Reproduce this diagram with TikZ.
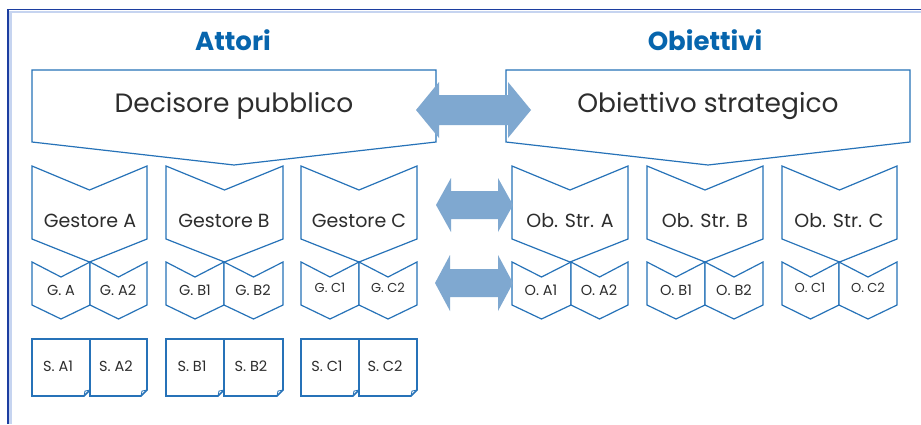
\documentclass[tikz,border=0pt]{standalone}
\usepackage{fontspec}
\setmainfont{Poppins}
\begin{document}
\definecolor{framedark}{RGB}{28,62,160}
\definecolor{framelight}{RGB}{198,212,240}
\definecolor{shapeline}{RGB}{38,114,184}
\definecolor{titleblue}{RGB}{7,101,173}
\definecolor{arrowfill}{RGB}{127,168,208}
\definecolor{textgray}{RGB}{45,45,45}
\tikzset{
  chev/.style={draw=shapeline, line width=1.2pt, fill=white, line join=miter},
  notebox/.style={draw=shapeline, line width=1.6pt, fill=white, line join=miter},
  dblarrow/.style={fill=arrowfill, draw=none},
  title/.style={text=titleblue, font=\fontsize{26}{30}\selectfont\bfseries},
  bigtxt/.style={text=textgray, font=\fontsize{26.5}{30}\selectfont},
  midtxt/.style={text=textgray, font=\fontsize{19}{22}\selectfont},
  smalltxt/.style={text=textgray, font=\fontsize{14.5}{17}\selectfont},
  tinytxt/.style={text=textgray, font=\fontsize{13}{15}\selectfont},
}
% chevron: left x, right x, top y, notch y, side bottom y, point y
\newcommand{\chevshape}[6]{%
  \draw[chev] (#1,#3) -- ({(#1+#2)/2},#4) -- (#2,#3) -- (#2,#5)
    -- ({(#1+#2)/2},#6) -- (#1,#5) -- cycle;}
% note with folded bottom-right corner: left x, right x
\newcommand{\noteshape}[2]{%
  \draw[notebox] (#1,339) -- (#2,339) -- (#2,390) -- ({#2-6},396) -- (#1,396) -- cycle;
  \draw[shapeline, line width=0.8pt] ({#2-6},396) -- ({#2-5},391) -- (#2,390);}
% double arrow: left tip x, right tip x, centre y, head length, head half height, shaft half height
\newcommand{\twoheaded}[6]{%
  \fill[dblarrow] (#1,#3) -- ({#1+#4},{#3-#5}) -- ({#1+#4},{#3-#6}) -- ({#2-#4},{#3-#6})
    -- ({#2-#4},{#3-#5}) -- (#2,#3) -- ({#2-#4},{#3+#5}) -- ({#2-#4},{#3+#6})
    -- ({#1+#4},{#3+#6}) -- ({#1+#4},{#3+#5}) -- cycle;}
\begin{tikzpicture}[x=1pt, y=-1pt]
\useasboundingbox (0,0) rectangle (921,424);
\fill[white] (0,0) rectangle (921,424);

% outer frame
\draw[framelight, line width=2.6pt] (10.3,424) -- (10.3,11.8) -- (921,11.8);
\draw[framedark, line width=1.7pt] (7.8,424) -- (7.8,9.4) -- (921,9.4);

% column titles
\node[title] (tAttori) at (233,40) {Attori};
\node[title] (tObiettivi) at (705,40) {Obiettivi};

% top level
\draw[chev] (32,70) -- (436,70) -- (436,142) -- (234,165) -- (32,142) -- cycle;
\draw[chev] (506,70) -- (910,70) -- (910,142) -- (708,165) -- (506,142) -- cycle;
\node[bigtxt] (decisore) at (234,106) {Decisore pubblico};
\node[bigtxt] (obstrat) at (708,106) {Obiettivo strategico};

% second level
\chevshape{32}{147}{166}{190}{239}{262}
\chevshape{166}{283}{166}{190}{239}{262}
\chevshape{301}{417}{166}{190}{239}{262}
\chevshape{512}{628}{166}{190}{239}{262}
\chevshape{647}{763}{166}{190}{239}{262}
\chevshape{782}{897}{166}{190}{239}{262}
\node[midtxt] (gA) at (90,221) {Gestore A};
\node[midtxt] (gB) at (224,221) {Gestore B};
\node[midtxt] (gC) at (359,221) {Gestore C};
\node[midtxt] (oA) at (570,221) {Ob. Str. A};
\node[midtxt] (oB) at (705,221) {Ob. Str. B};
\node[midtxt] (oC) at (839,221) {Ob. Str. C};

% third level
\chevshape{32}{90}{262}{277}{305}{319}
\chevshape{90}{147}{262}{277}{305}{319}
\chevshape{166}{224}{262}{277}{305}{319}
\chevshape{224}{283}{262}{277}{305}{319}
\chevshape{301}{359}{262}{277}{305}{319}
\chevshape{359}{417}{262}{277}{305}{319}
\chevshape{512}{571}{262}{277}{305}{319}
\chevshape{571}{628}{262}{277}{305}{319}
\chevshape{647}{705}{262}{277}{305}{319}
\chevshape{705}{763}{262}{277}{305}{319}
\chevshape{782}{839}{262}{277}{305}{319}
\chevshape{839}{897}{262}{277}{305}{319}
\node[smalltxt] (gA1) at (61,290) {G. A};
\node[smalltxt] (gA2) at (118,290) {G. A2};
\node[smalltxt] (gB1) at (195,290) {G. B1};
\node[smalltxt] (gB2) at (253,290) {G. B2};
\node[tinytxt] (gC1) at (330,288) {G. C1};
\node[tinytxt] (gC2) at (388,288) {G. C2};
\node[smalltxt] (oA1) at (541,290) {O. A1};
\node[smalltxt] (oA2) at (599,290) {O. A2};
\node[smalltxt] (oB1) at (676,290) {O. B1};
\node[smalltxt] (oB2) at (734,290) {O. B2};
\node[tinytxt] (oC1) at (810,288) {O. C1};
\node[tinytxt] (oC2) at (868,288) {O. C2};

% fourth level
\noteshape{32}{90}
\noteshape{90}{147}
\noteshape{166}{224}
\noteshape{224}{283}
\noteshape{301}{359}
\noteshape{359}{417}
\node[smalltxt] (sA1) at (58,366) {S. A1};
\node[smalltxt] (sA2) at (116,366) {S. A2};
\node[smalltxt] (sB1) at (192,366) {S. B1};
\node[smalltxt] (sB2) at (251,366) {S. B2};
\node[smalltxt] (sC1) at (327,366) {S. C1};
\node[smalltxt] (sC2) at (385,366) {S. C2};

% correspondence arrows
\twoheaded{416}{531}{110}{23}{28}{15}
\twoheaded{436}{513}{205}{15}{27}{14}
\twoheaded{435}{513}{283}{15}{28}{14}
\end{tikzpicture}
\end{document}
